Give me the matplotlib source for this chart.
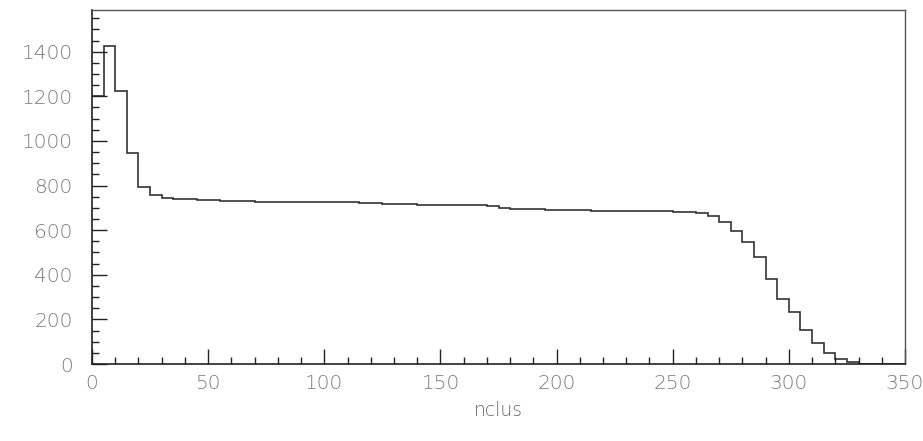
import numpy as np
import matplotlib
matplotlib.use("Agg")
import matplotlib.pyplot as plt
from matplotlib.ticker import MultipleLocator

# Histogram of nclus: 70 bins of width 5 from 0 to 350
bin_low = 0
bin_high = 350
bin_width = 5
counts = [
    1200, 1425, 1225, 947, 794, 757, 742, 741, 740, 737,
    734, 733, 731, 729, 727, 727, 727, 727, 727, 726,
    726, 726, 725, 724, 721, 717, 716, 716, 713, 712,
    712, 712, 711, 711, 710, 698, 696, 695, 693, 692,
    691, 690, 689, 688, 688, 687, 687, 686, 686, 684,
    682, 681, 677, 662, 638, 597, 549, 479, 380, 293,
    232, 153, 93, 51, 22, 9, 2, 0, 0, 0,
]
x_label = "nclus"
x_ticks = [0, 50, 100, 150, 200, 250, 300, 350]
y_ticks = [0, 200, 400, 600, 800, 1000, 1200, 1400]

edges = np.arange(bin_low, bin_high + bin_width, bin_width)

plt.rcParams['font.family'] = ['DejaVu Sans']
fig = plt.figure(figsize=(9.23, 4.41), dpi=100)
ax = fig.add_axes([0.0997, 0.1746, 0.9805 - 0.0997, 0.9773 - 0.1746])

ax.stairs(counts, edges, baseline=None, color='#333333', linewidth=1.2)

ax.set_xlim(0, 350)
ax.set_ylim(0, 1587)
ax.set_xticks(x_ticks)
ax.set_yticks(y_ticks)
ax.xaxis.set_minor_locator(MultipleLocator(10))
ax.yaxis.set_minor_locator(MultipleLocator(50))

ax.tick_params(axis='both', which='both', direction='in', colors='#222222',
               labelcolor='#7a7a7a', labelsize=14.5, width=1.0)
ax.tick_params(axis='both', which='major', length=11)
ax.tick_params(axis='both', which='minor', length=5)
ax.tick_params(axis='y', which='major', pad=14)
ax.tick_params(axis='x', which='major', pad=7)
for lab in ax.get_xticklabels() + ax.get_yticklabels():
    lab.set_fontweight(200)

for side in ['left', 'bottom']:
    ax.spines[side].set_color('#222222')
    ax.spines[side].set_linewidth(1.2)
for side in ['top', 'right']:
    ax.spines[side].set_color('#555555')
    ax.spines[side].set_linewidth(1.0)

ax.set_xlabel(x_label, fontsize=13.5, color='#666666', fontweight=200, labelpad=6)

fig.savefig("out.png", dpi=100)
